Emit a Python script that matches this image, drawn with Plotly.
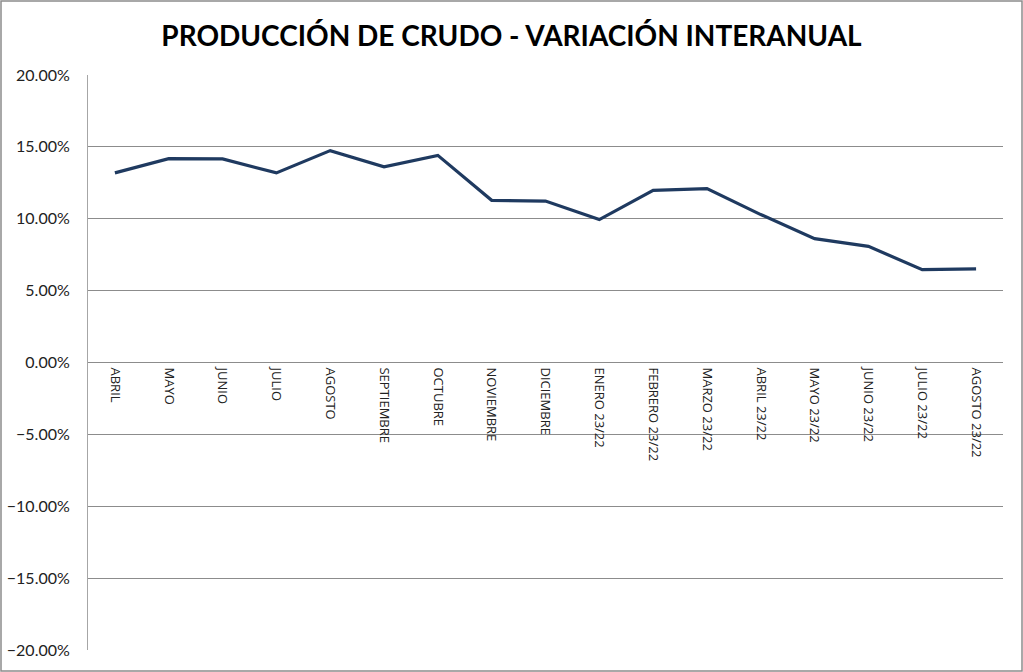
import plotly.graph_objects as go

categories = ["ABRIL", "MAYO", "JUNIO", "JULIO", "AGOSTO", "SEPTIEMBRE", "OCTUBRE",
              "NOVIEMBRE", "DICIEMBRE", "ENERO 23/22", "FEBRERO 23/22", "MARZO 23/22",
              "ABRIL 23/22", "MAYO 23/22", "JUNIO 23/22", "JULIO 23/22", "AGOSTO 23/22"]
variacion = [0.1319, 0.1418, 0.1416, 0.1319, 0.1474, 0.1361, 0.1441,
             0.1128, 0.1123, 0.0994, 0.1198, 0.1210,
             0.1029, 0.0862, 0.0808, 0.0646, 0.0651]
y_ticks = [-0.20, -0.15, -0.10, -0.05, 0.0, 0.05, 0.10, 0.15, 0.20]
title_text = "PRODUCCIÓN DE CRUDO - VARIACIÓN INTERANUAL"

W, H = 1023, 672
L, R, T, B = 88, 20, 75, 22
pw, ph = W - L - R, H - T - B

fig = go.Figure()
fig.add_trace(go.Scatter(
    x=categories, y=variacion, mode="lines",
    line=dict(color="#1F3A60", width=3.2),
    hoverinfo="x+y",
))

fig.update_layout(
    width=W, height=H,
    margin=dict(l=L, r=R, t=T, b=B, autoexpand=False),
    paper_bgcolor="white", plot_bgcolor="white",
    showlegend=False,
    font=dict(family="Lato, Open Sans, sans-serif", color="#222222"),
    title=dict(text="<b>" + title_text + "</b>", x=0.5, xanchor="center",
               y=1 - 36 / H, yanchor="middle",
               font=dict(family="Lato, Open Sans, sans-serif", size=28, color="black")),
    xaxis=dict(
        type="category", range=[-0.5, len(categories) - 0.5],
        anchor="free", position=0.5, automargin=False,
        showgrid=False, showline=False, zeroline=False,
        ticks="", tickangle=90,
        tickfont=dict(size=13, family="Open Sans, sans-serif", color="#222222"),
        ticklabelstandoff=4,
    ),
    yaxis=dict(
        range=[-0.20, 0.20], tickvals=y_ticks, tickformat=".2%", automargin=False,
        showgrid=True, gridcolor="#8C8C8C", gridwidth=1,
        zeroline=True, zerolinecolor="#8C8C8C", zerolinewidth=1,
        showline=True, linecolor="#A6A6A6", linewidth=1,
        ticks="", tickfont=dict(size=16, family="Lato, Open Sans, sans-serif", color="#222222"),
        ticklabelstandoff=14,
    ),
    shapes=[dict(
        type="rect", xref="paper", yref="paper",
        x0=(-L + 1) / pw, x1=(W - L - 1) / pw,
        y0=(-B + 1) / ph, y1=(H - B - 1) / ph,
        line=dict(color="#8C8C8C", width=1.5), fillcolor="rgba(0,0,0,0)", layer="below",
    )],
)

fig.write_html("out.html",
               config={"displayModeBar": False},
               post_script="document.body.style.margin='0px';document.body.style.overflow='hidden';")
